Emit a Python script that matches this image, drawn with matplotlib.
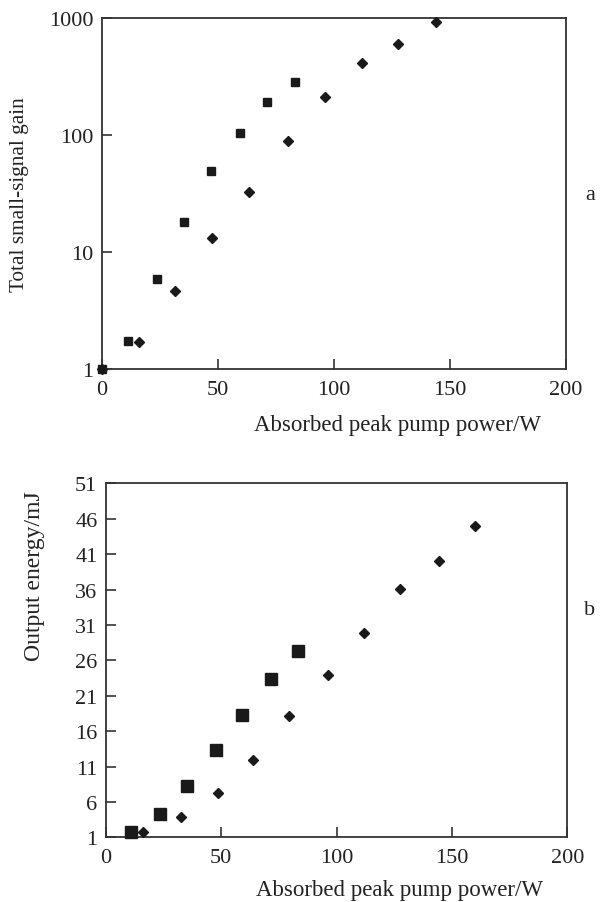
import matplotlib
matplotlib.use("Agg")
import matplotlib.pyplot as plt

plt.rcParams["font.family"] = ["Liberation Serif", "DejaVu Serif"]

# panel a: small-signal gain (log scale)
gain_sq_x = [0, 11.5, 24.0, 35.6, 47.3, 59.8, 71.4, 83.5]
gain_sq_y = [1.0, 1.73, 5.85, 18.0, 49.1, 103.7, 191, 283]
gain_di_x = [0, 16.0, 31.8, 47.7, 63.5, 80.3, 96.1, 112.1, 127.9, 144.0]
gain_di_y = [1.0, 1.71, 4.62, 13.1, 32.9, 88.6, 213, 417, 607, 924]

# panel b: output energy
energy_sq_x = [11.1, 23.7, 35.4, 47.9, 59.2, 71.8, 83.5]
energy_sq_y = [1.71, 4.25, 8.30, 13.29, 18.23, 23.41, 27.27]
energy_di_x = [16.0, 32.8, 48.5, 64.0, 79.6, 96.3, 112.0, 127.6, 144.5, 160.0]
energy_di_y = [1.71, 3.82, 7.21, 11.88, 18.09, 23.93, 29.81, 36.03, 40.03, 45.02]

x_ticks = [0, 50, 100, 150, 200]
gain_ticks = [1, 10, 100, 1000]
energy_ticks = [1, 6, 11, 16, 21, 26, 31, 36, 41, 46, 51]

fig = plt.figure(figsize=(6.0, 9.03), dpi=100)
ax1 = fig.add_axes([0.1695, 0.5903, 0.7733, 0.3884])
ax2 = fig.add_axes([0.1762, 0.0716, 0.7693, 0.3920])

color = "#1a1a1a"
text_color = "#222222"

# --- panel a ---
ax1.plot(gain_sq_x, gain_sq_y, "s", ms=6.3, color=color, clip_on=False, zorder=3)
ax1.plot(gain_di_x, gain_di_y, "D", ms=4.8, color=color, clip_on=False, zorder=3)
ax1.set_yscale("log")
ax1.set_xlim(0, 200)
ax1.set_ylim(1, 1000)
ax1.set_yticks(gain_ticks)
ax1.set_yticklabels([str(t) for t in gain_ticks])
ax1.yaxis.set_minor_locator(matplotlib.ticker.NullLocator())
ax1.set_xticks(x_ticks)

# --- panel b ---
ax2.plot(energy_sq_x, energy_sq_y, "s", ms=8.0, color=color, clip_on=False, zorder=3)
ax2.plot(energy_di_x, energy_di_y, "D", ms=5.0, color=color, clip_on=False, zorder=3)
ax2.set_xlim(0, 200)
ax2.set_ylim(1, 51)
ax2.set_yticks(energy_ticks)
ax2.set_xticks(x_ticks)

for ax in (ax1, ax2):
    ax.tick_params(direction="in", length=7, width=1.2, labelsize=16,
                   colors="#333333", labelcolor=text_color)
    ax.tick_params(axis="y", pad=6)
    ax.tick_params(axis="x", pad=8)
    for sp in ax.spines.values():
        sp.set_linewidth(1.3)
        sp.set_color("#333333")

fig.text(0.033, 0.784, "Total small-signal gain", rotation=90,
         ha="center", va="center", fontsize=15.3, color=text_color)
fig.text(0.058, 0.362, "Output energy/mJ", rotation=90,
         ha="center", va="center", fontsize=17, color=text_color)
fig.text(0.662, 0.529, "Absorbed peak pump power/W", ha="center", va="center",
         fontsize=16.5, color=text_color)
fig.text(0.665, 0.002, "Absorbed peak pump power/W", ha="center", va="bottom",
         fontsize=16.5, color=text_color)
fig.text(0.983, 0.784, "a", ha="center", va="center", fontsize=16, color=text_color)
fig.text(0.983, 0.324, "b", ha="center", va="center", fontsize=16, color=text_color)

fig.savefig("out.png", dpi=100)
